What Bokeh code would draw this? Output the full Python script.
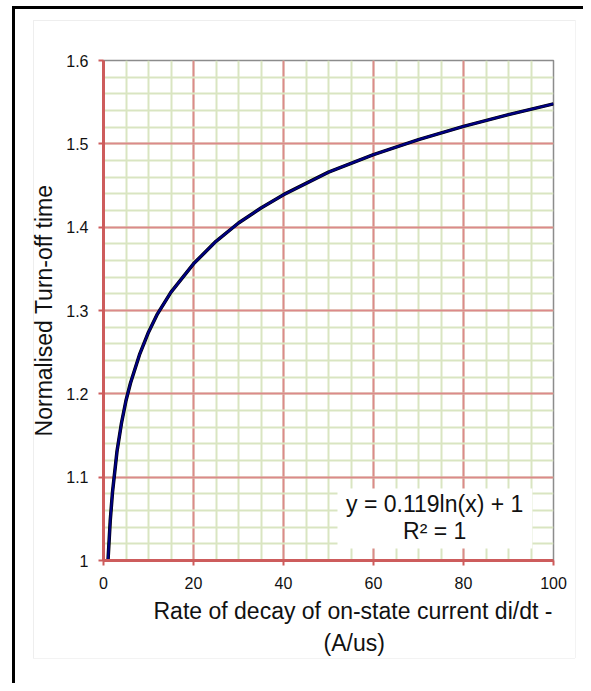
from bokeh.plotting import figure
from bokeh.models import FixedTicker, Label, BoxAnnotation, ColumnDataSource, Title, InlineStyleSheet
from bokeh.embed import file_html
from bokeh.resources import INLINE

# ---- data ----
rate = [1, 1.5, 2, 3, 4, 5, 6, 8, 10, 12, 15, 20, 25, 30, 35, 40, 50, 60, 70, 80, 90, 100]
turnoff = [1.000, 1.048, 1.082, 1.131, 1.165, 1.192, 1.213, 1.247, 1.274, 1.296, 1.322,
           1.356, 1.383, 1.405, 1.423, 1.439, 1.466, 1.487, 1.505, 1.521, 1.535, 1.548]
x_ticks = [0, 20, 40, 60, 80, 100]
y_ticks = [1.0, 1.1, 1.2, 1.3, 1.4, 1.5, 1.6]
y_tick_labels = ["1", "1.1", "1.2", "1.3", "1.4", "1.5", "1.6"]
equation_text = "y = 0.119ln(x) + 1"
r2_text = "R\u00b2 = 1"
x_label_lines = ["Rate of decay of on-state current di/dt -", "(A/us)"]
y_label = "Normalised Turn-off time"

FONT = "Liberation Sans"
TXT = "#111111"
RED_AXIS = "#cd5c5c"
RED_GRID = "#dc8a8a"
GREEN_GRID = "#d9e5c1"

p = figure(width=583, height=683, x_range=(0, 100), y_range=(1.0, 1.6),
           output_backend="svg", toolbar_location=None,
           min_border_left=103, min_border_right=30, min_border_top=60, min_border_bottom=123,
           background_fill_color="white", border_fill_color="white", border_fill_alpha=0)

# outer black frame (left and top edges) and faint chart-area box, drawn as page styling
p.stylesheets = [InlineStyleSheet(css="""
:host {
  background-color: white;
  background-image: linear-gradient(black, black), linear-gradient(black, black),
                    linear-gradient(#eeeeee, #eeeeee), linear-gradient(#eeeeee, #eeeeee),
                    linear-gradient(#f3f3f3, #f3f3f3), linear-gradient(#f3f3f3, #f3f3f3);
  background-size: 3px 100%, 100% 3px, 1px 638px, 542px 1px, 1px 638px, 542px 1px;
  background-position: 12px 6px, 12px 6px, 33px 20px, 33px 20px, 575px 20px, 33px 658px;
  background-repeat: no-repeat;
}
""")]

p.xaxis.ticker = FixedTicker(ticks=x_ticks, minor_ticks=[5 * i for i in range(21)])
p.yaxis.ticker = FixedTicker(ticks=y_ticks, minor_ticks=[1.0 + 0.02 * i for i in range(31)])
p.yaxis.major_label_overrides = {t: l for t, l in zip(y_ticks, y_tick_labels)}

for g in (p.xgrid, p.ygrid):
    g.grid_line_color = RED_GRID
    g.grid_line_width = 2
    g.grid_line_alpha = 1
    g.minor_grid_line_color = GREEN_GRID
    g.minor_grid_line_width = 2

p.outline_line_color = "#8c8c8c"
p.outline_line_width = 1.5

for ax in (p.xaxis, p.yaxis):
    ax.axis_line_color = RED_AXIS
    ax.axis_line_width = 3
    ax.major_tick_line_color = RED_AXIS
    ax.major_tick_line_width = 2
    ax.major_tick_out = 5
    ax.major_tick_in = 0
    ax.minor_tick_out = 0
    ax.minor_tick_in = 0
    ax.major_label_text_font = FONT
    ax.major_label_text_font_size = "16px"
    ax.major_label_text_color = TXT

p.xaxis.major_label_standoff = 11
p.yaxis.major_label_standoff = 10

p.yaxis.axis_label = y_label
p.yaxis.axis_label_text_font = FONT
p.yaxis.axis_label_text_font_size = "23px"
p.yaxis.axis_label_text_font_style = "normal"
p.yaxis.axis_label_text_color = TXT
p.yaxis.axis_label_standoff = 6

src = ColumnDataSource(dict(x=rate, y=turnoff))
p.line("x", "y", source=src, line_color="#000000", line_width=3.5, line_join="round")
p.line("x", "y", source=src, line_color="#000080", line_width=2.3, line_join="round")

# equation box
p.add_layout(BoxAnnotation(left=52, right=95.3, bottom=1.0144, top=1.0864,
                           fill_color="white", fill_alpha=1, line_color=None))
p.add_layout(Label(x=73.6, y=1.068, text=equation_text, text_align="center",
                   text_baseline="middle", text_font=FONT, text_font_size="23px",
                   text_color=TXT))
p.add_layout(Label(x=73.6, y=1.036, text=r2_text, text_align="center",
                   text_baseline="middle", text_font=FONT, text_font_size="23px",
                   text_color=TXT))

# x axis title (two lines, positioned as in reference)
for line_text, off, so in ((x_label_lines[0], 50, 8), (x_label_lines[1], 220, 0)):
    p.add_layout(Title(text=line_text, align="left", offset=off, standoff=so,
                       text_font=FONT, text_font_size="23px", text_font_style="normal",
                       text_color=TXT), "below")

open("out.html", "w").write(file_html(p, INLINE))
